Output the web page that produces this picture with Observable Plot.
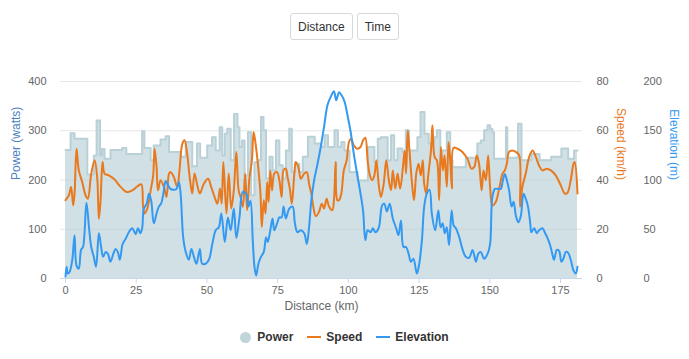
<!DOCTYPE html>
<html>
<head>
<meta charset="utf-8">
<script src="https://cdn.jsdelivr.net/npm/d3@7"></script>
<script src="https://cdn.jsdelivr.net/npm/@observablehq/plot@0.6"></script>
<style>
  html, body { margin: 0; padding: 0; background: #fff; }
  body { width: 689px; height: 359px; overflow: hidden; font-family: "Liberation Sans", Arial, Helvetica, sans-serif; }
  #buttons { height: 52px; box-sizing: border-box; padding-top: 13px; display: flex; justify-content: center; gap: 4px; }
  #buttons button { height: 27px; padding: 0 7px; border: 1px solid #d9d9d9; border-radius: 3px; background: #fff; color: #333; font: 12px "Liberation Sans", Arial, sans-serif; }
  #chart svg { display: block; }
  #legend { height: 34px; display: flex; align-items: center; justify-content: center; font: bold 12px "Liberation Sans", Arial, sans-serif; color: #333; }
  .item { display: flex; align-items: center; margin: 0 7px; }
  .dot { width: 11px; height: 11px; border-radius: 50%; margin-right: 6px; }
  .ln { width: 14px; height: 2px; margin-right: 5px; }
</style>
</head>
<body>
<div id="buttons"><button>Distance</button><button>Time</button></div>
<div id="chart"></div>
<div id="legend"></div>
<script>
// ---- data ----
const xTicks = [0, 25, 50, 75, 100, 125, 150, 175];
const powerTicks = [0, 100, 200, 300, 400];
const speedTicks = [0, 20, 40, 60, 80];
const elevTicks = [0, 50, 100, 150, 200];

const powerKm = [0,1.8,3.2,7.7,10.0,11.0,12.2,12.9,13.8,15.9,20.0,21.5,27.1,27.9,30.1,31.2,33.6,35.4,36.6,40.7,42.5,44.8,46.5,47.6,50.1,51.8,53.1,54.5,55.4,56.3,57.2,58.4,59.6,60.8,61.5,62.4,63.3,64.5,65.6,66.8,68.0,69.1,70.0,70.9,72.1,73.2,74.4,75.6,76.8,77.9,79.1,80.0,81.2,82.7,83.9,85.7,88.1,90.5,91.6,92.8,95.1,96.3,97.5,98.6,100.4,103.3,106.9,109.2,110.4,111.5,113.9,115.1,116.2,117.4,119.1,120.3,121.4,124.4,125.5,126.9,128.4,130.2,131.3,132.5,134.8,136.0,136.8,141.5,145.6,146.8,148.0,149.2,150.1,150.9,151.5,155.7,156.2,160.0,161.2,164.7,167.6,171.7,175.3,177.7,179.8,181];
const powerW = [261,295,284,211,250,321,250,263,243,261,265,253,299,265,240,270,282,289,257,247,277,228,274,245,270,287,260,307,250,294,304,240,334,307,267,280,209,297,169,236,240,328,301,203,247,220,280,230,203,260,304,216,233,216,247,288,274,267,291,267,301,267,277,260,216,199,267,236,284,287,240,291,240,264,257,301,260,287,338,294,274,287,301,260,297,240,226,245,274,280,301,311,304,297,243,307,245,314,240,253,240,247,264,243,260,260];

const speedKm = [0,1.2,2,2.7,3.2,3.9,4.7,5.9,7.1,7.9,9.1,10.3,11.2,11.8,12.4,13.1,13.8,15.3,17.1,19.5,21.6,23.6,25.4,26.8,27.4,27.9,28.9,30.1,31,31.5,32.2,32.7,33.6,34.8,35.7,36.6,37.1,38.3,39.5,40.3,41.3,42.1,43,43.9,44.8,45.6,46.6,47.5,48.9,50.4,51.5,52.7,53.7,54.6,55.2,55.8,56.9,57.7,58.6,59.5,60.4,61.2,61.9,62.7,63.5,64.2,65,65.9,66.5,67.2,68,68.9,69.4,70.1,70.7,71.3,71.8,72.4,73,73.8,74.8,75.6,76.4,77.1,77.9,78.5,79.3,80,80.9,81.4,82.3,83.2,84.4,85.3,86.1,86.9,87.6,88.5,89.6,90.6,91.4,92.3,93.2,94.3,94.9,95.5,96.1,96.7,97.5,98.4,99.4,100.2,101,101.9,103.1,104.3,105.2,106,106.8,107.6,108.4,109.2,109.9,110.7,111.5,112.5,113.4,114.3,115.1,115.7,116.6,117.4,118.3,119.3,119.9,120.4,121,121.6,122.4,123.2,124,124.8,125.6,126.3,126.8,127.5,128.3,129.2,129.7,130.5,131.3,132.1,132.7,133.4,134,134.8,135.4,136,136.6,137.2,138.6,140.3,142.1,143.5,144.5,145.4,146.2,147.1,147.8,148.6,149.4,150.1,150.9,152.1,153.3,154.5,155.3,156,156.8,158,159.2,160.4,160.7,161.5,162.7,163.9,165.1,166.3,167.4,168.6,170.1,171.6,173.3,175.1,176.5,177.4,178.6,179.6,180,181];
const speedVal = [31.8,33.8,37.2,29.7,34.5,52.7,43.9,39.2,33.8,32.4,42.6,48,41.2,24.3,31.8,47.3,42.6,41.9,40.5,37.2,35.1,35.8,37.4,38.2,29.7,26.4,28.4,35.8,41.9,52.7,45.3,35.8,39.9,37.2,33.1,42.6,43.2,41.2,37.2,43.9,54.7,56.1,50.7,41.2,34.5,42.6,37.8,34.5,38.5,40.5,37.2,33.1,30.4,36.5,30.4,47.3,26.4,42.6,28.4,35.8,51.4,35.8,33.1,29.1,42.6,27.7,40.5,48,59.5,54.7,46.6,35.1,20.9,31.8,26.4,39.2,31.1,43.9,35.8,42.6,43.2,39.9,33.1,43.9,44.6,41.2,36.5,30.4,42.6,47.3,45.3,40.5,42.6,43.2,38.5,34.5,29.1,25.3,27,30.4,28.4,32.4,29.1,27.7,31.8,47.3,31.8,31.8,34.5,43.9,48,55.4,56.8,54.1,52.7,53.4,56.1,57.2,48,41.9,39.9,41.9,48,38.5,33.1,38.5,48,39.9,35.8,43.9,36.5,42.6,36.5,45.3,52,42.6,60.1,52,39.9,31.8,42.6,46.6,41.9,48,38.5,34.5,42.6,52,62.2,49.3,48,31.8,53.4,43.9,50,37.2,55.4,48,36.5,53.1,52.7,51.4,48.6,44.6,45.3,50,46.6,35.8,43.9,39.9,50,37.2,29.7,31.1,36.5,42.6,43.9,46.6,51.4,52,51.4,50,29.1,37.2,42.6,49.3,52,49.3,45.9,43.9,44.6,43.9,41.9,37.8,34.5,34.7,39.9,46.6,47.3,34.5];

const elevKm = [0,0.4,0.8,1.5,2.4,3.2,3.9,4.7,5.5,6.2,7.4,8.3,9.1,10,10.8,11.8,12.6,13.3,14.2,15,15.9,16.9,17.7,18.5,19.2,20.2,21.2,22.4,23.6,24.8,25.6,26.5,27.1,27.7,28.7,29.5,30.3,31.2,32.2,33,33.8,34.6,35.4,36.2,37.1,38.3,39.3,40.1,40.7,41.6,42.5,43.6,44.5,45.4,46.3,47.5,48.3,49.5,50.7,51.9,53.1,54.2,55.1,56.3,57.4,58.4,59.5,60.4,61.5,62.7,63.9,64.7,65.4,66.2,66.8,67.4,68.2,69.1,70.1,70.9,71.5,72.4,73.2,73.8,74.8,75.6,76.4,77.1,77.9,79.1,80.3,81.1,82,83.2,84.4,85.3,86.1,86.9,87.9,89,90.2,91.4,92.6,93.7,94.9,95.7,96.7,97.6,98.7,99.6,100.8,101.9,103.1,104.3,105.2,106,106.8,107.8,108.7,109.5,110.7,111.9,112.7,113.6,114.6,115.7,116.9,117.7,118.6,119.5,120.4,121.3,122.1,123,124.2,125,126,126.8,127.7,128.7,129.5,130.7,131.8,132.6,133.3,134.1,134.8,135.6,136.5,137.2,138,139.2,140.3,141.5,142.7,143.9,145.1,145.9,146.8,148,149.2,150.1,150.9,151.8,152.7,153.9,154.5,155.3,156,156.8,157.7,158.4,159.2,160.1,161,161.9,162.7,163.5,164.3,164.7,165.7,166.6,167.4,168.6,169.4,170.4,171.3,172.1,172.7,173.7,174.5,175.3,176,176.9,177.7,178.6,179.6,180.4,181];
const elevVal = [2,12,5,7,19,44,13,10,29,32,77,52,32,22,12,46,32,22,27,25,17,25,30,27,19,35,40,47,51,45,51,46,51,71,76,86,79,56,66,73,76,86,99,95,91,90,91,98,86,42,27,19,30,22,15,30,15,15,19,35,49,52,66,37,62,49,71,41,62,88,86,73,79,39,12,3,15,22,27,42,37,49,61,49,56,62,62,73,61,71,73,56,47,49,46,35,52,79,100,115,133,154,176,184,190,181,189,186,179,167,149,127,106,86,69,39,49,47,51,47,51,74,76,68,76,61,51,44,59,32,32,25,17,20,5,14,39,73,86,90,66,49,69,52,56,46,52,34,69,54,51,42,30,22,21,29,17,25,27,20,25,35,83,91,91,91,98,106,100,90,73,78,64,57,64,86,81,73,56,47,51,46,49,51,47,41,34,25,19,29,28,17,20,27,26,19,8,5,12];

const colors = { power: "#b8d0d6", powerFill: "#b8d0d6", speed: "#e8791e", elev: "#3399f3", powerTitle: "#4a7fbf" };

// ---- build tables ----
const power = powerKm.map((k, i) => ({ km: k, w: powerW[i] }));
const speed = speedKm.map((k, i) => ({ km: k, v: speedVal[i] }));
const elev = elevKm.map((k, i) => ({ km: k, v: elevVal[i] }));

const font = '"Liberation Sans", Arial, Helvetica, sans-serif';

const chart = Plot.plot({
  width: 689,
  height: 268,
  marginTop: 29,
  marginBottom: 42,
  marginLeft: 65,
  marginRight: 112,
  style: { fontFamily: font, fontSize: "11px", color: "#666", background: "transparent", overflow: "visible" },
  x: { domain: [0, 181], ticks: xTicks, tickSize: 0, tickPadding: 8, label: null },
  y: { domain: [0, 400], ticks: powerTicks, tickSize: 0, tickPadding: 19, label: null },
  marks: [
    Plot.ruleY(powerTicks.filter(d => d > 0), { y: d => d, stroke: "#e6e6e6", strokeWidth: 1, insetLeft: -5, insetRight: -5 }),
    Plot.areaY(power, { x: "km", y: "w", curve: "step-after", fill: colors.powerFill, fillOpacity: 0.65 }),
    Plot.line(power, { x: "km", y: "w", curve: "step-after", stroke: colors.power, strokeWidth: 2 }),
    Plot.ruleY([0], { y: d => d, stroke: "#ccd6eb", strokeWidth: 1, insetLeft: -5, insetRight: -5 }),
    Plot.ruleX(xTicks, { x: d => d, y1: 0, y2: 0, insetBottom: -5, stroke: "#ccd6eb", strokeWidth: 1 }),
    Plot.line(speed, { x: "km", y: d => d.v * 5, curve: "catmull-rom", stroke: colors.speed, strokeWidth: 2 }),
    Plot.line(elev, { x: "km", y: d => d.v * 2, curve: "catmull-rom", stroke: colors.elev, strokeWidth: 2 }),
    Plot.text(speedTicks, { y: d => d * 5, text: d => String(d), frameAnchor: "right", dx: 19, textAnchor: "start", fill: "#666", fontSize: 11 }),
    Plot.text(elevTicks, { y: d => d * 2, text: d => String(d), frameAnchor: "right", dx: 66, textAnchor: "start", fill: "#666", fontSize: 11 }),
    Plot.text(["Distance (km)"], { frameAnchor: "bottom", dy: 31, fill: "#666", fontSize: 12 }),
    Plot.text(["Power (watts)"], { frameAnchor: "left", dx: -49, rotate: -90, fill: colors.powerTitle, fontSize: 12 }),
    Plot.text(["Speed (km/h)"], { frameAnchor: "right", dx: 43, rotate: 90, fill: colors.speed, fontSize: 12 }),
    Plot.text(["Elevation (m)"], { frameAnchor: "right", dx: 96, rotate: 90, fill: colors.elev, fontSize: 12 })
  ]
});
document.getElementById("chart").appendChild(chart);

// ---- legend ----
const legendItems = [
  { name: "Power", kind: "dot", color: "#bfd5da" },
  { name: "Speed", kind: "ln", color: colors.speed },
  { name: "Elevation", kind: "ln", color: colors.elev }
];
const legend = document.getElementById("legend");
legendItems.forEach(it => {
  const d = document.createElement("div");
  d.className = "item";
  const s = document.createElement("span");
  s.className = it.kind;
  s.style.background = it.color;
  d.appendChild(s);
  const t = document.createElement("span");
  t.textContent = it.name;
  d.appendChild(t);
  legend.appendChild(d);
});
</script>
</body>
</html>
